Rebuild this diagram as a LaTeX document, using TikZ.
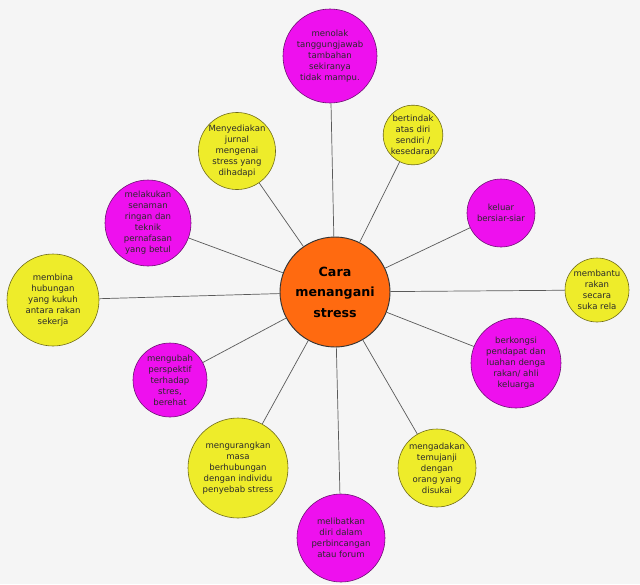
\documentclass[tikz,border=0pt]{standalone}
\usepackage{fontspec}
\setmainfont{DejaVu Sans}
\usepackage{tikz}
\usetikzlibrary{positioning, shapes.geometric}
\usepackage{color}

\definecolor{pinkish}{HTML}{EE10EE}
\definecolor{pinkline}{HTML}{6A1070}
\definecolor{yellowish}{HTML}{EEEC2A}
\definecolor{yellowline}{HTML}{6E6A18}
\definecolor{orangeish}{HTML}{FF6A10}
\definecolor{spoke}{HTML}{5A5A5A}
\definecolor{inktext}{HTML}{2A2A2A}

\tikzset{
  bub/.style={circle, draw, line width=0.5pt, inner sep=0pt, align=center,
    minimum size=#1*0.6mm, text=inktext, font=\fontsize{7.3}{9.4}\selectfont},
  pinkbub/.style={bub=#1, fill=pinkish, draw=pinkline},
  yellowbub/.style={bub=#1, fill=yellowish, draw=yellowline},
  spokeline/.style={draw=spoke, line width=0.6pt}
}

\begin{document}
\begin{tikzpicture}[x=0.3mm, y=-0.3mm]
\fill[white!96!black] (0,0) rectangle (640,584);
\useasboundingbox (0,0) rectangle (640,584);

% hub
\node[circle, draw=black!80, line width=0.8pt, fill=orangeish, minimum size=110*0.3mm,
  inner sep=0pt, align=center, font=\fontsize{10.8}{17.5}\selectfont\bfseries]
  (hub) at (335,292) {Cara\\menangani\\stress};

% the bubbles round it
\node[pinkbub=47] (menolak) at (330,56) {menolak\\tanggungjawab\\tambahan\\sekiranya\\tidak mampu.};
\node[yellowbub=37] (jurnal) at (237,151) {Menyediakan\\jurnal\\mengenai\\stress yang\\dihadapi};
\node[yellowbub=29] (bertindak) at (413,135) {bertindak\\atas diri\\sendiri /\\kesedaran};
\node[pinkbub=43] (senaman) at (148,223) {melakukan\\senaman\\ringan dan\\teknik\\pernafasan\\yang betul};
\node[pinkbub=34] (keluar) at (501,213) {keluar\\bersiar-siar};
\node[yellowbub=46] (membina) at (53,300) {membina\\hubungan\\yang kukuh\\antara rakan\\sekerja};
\node[yellowbub=32] (membantu) at (597,290) {membantu\\rakan\\secara\\suka rela};
\node[pinkbub=37] (mengubah) at (170,380) {mengubah\\perspektif\\terhadap\\stres,\\berehat};
\node[pinkbub=45] (berkongsi) at (516,363) {berkongsi\\pendapat dan\\luahan denga\\rakan/ ahli\\keluarga};
\node[yellowbub=50] (kurang) at (238,468) {mengurangkan\\masa\\berhubungan\\dengan individu\\penyebab stress};
\node[yellowbub=39] (temujanji) at (437,468) {mengadakan\\temujanji\\dengan\\orang yang\\disukai};
\node[pinkbub=44] (forum) at (341,538) {melibatkan\\diri dalam\\perbincangan\\atau forum};

\foreach \b in {menolak, jurnal, bertindak, senaman, keluar, membina,
  membantu, mengubah, berkongsi, kurang, temujanji, forum}
  \draw[spokeline] (hub) -- (\b);
\end{tikzpicture}
\end{document}
